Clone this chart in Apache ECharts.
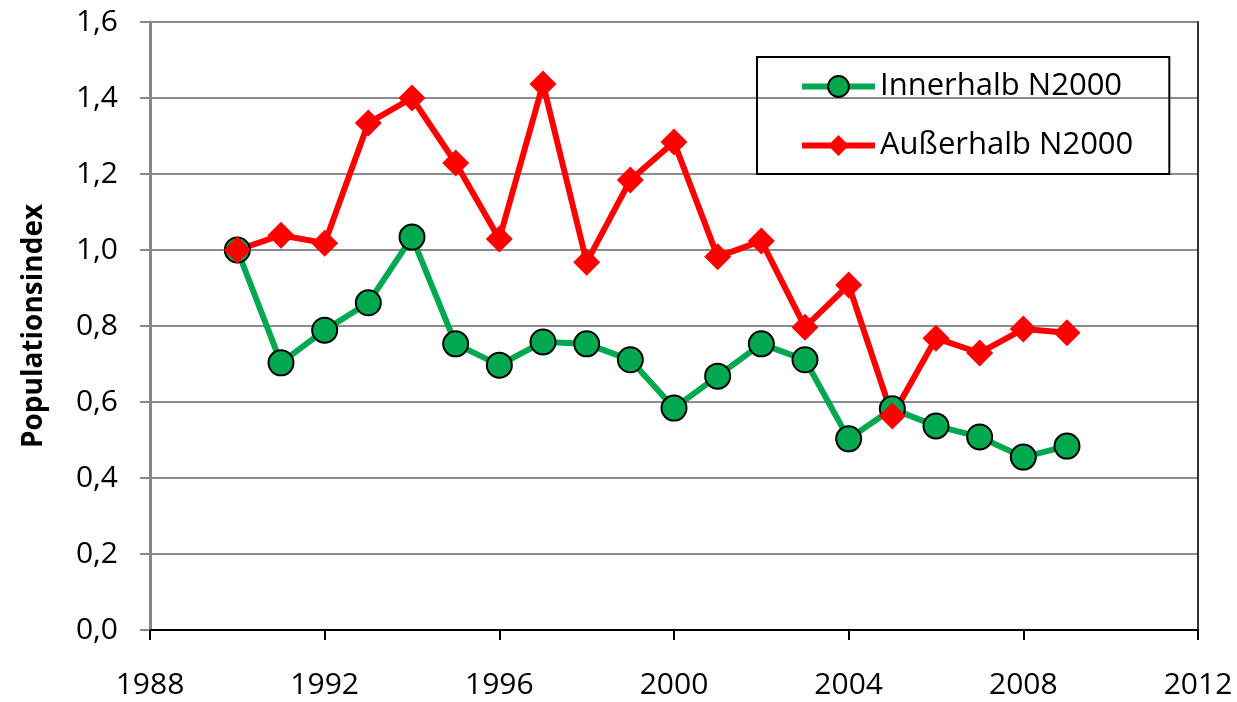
<!DOCTYPE html>
<html>
<head>
<meta charset="utf-8">
<script src="https://cdn.jsdelivr.net/npm/echarts@6/dist/echarts.min.js"></script>
<style>
  html, body { margin: 0; padding: 0; background: #fff; }
  #chart { width: 1237px; height: 702px; }
</style>
</head>
<body>
<div id="chart"></div>
<script>
// Jahre und Indexwerte
const years = [1990, 1991, 1992, 1993, 1994, 1995, 1996, 1997, 1998, 1999,
  2000, 2001, 2002, 2003, 2004, 2005, 2006, 2007, 2008, 2009]
const innerhalb = [1.0, 0.703, 0.789, 0.861, 1.034, 0.753, 0.697, 0.758, 0.753, 0.711,
  0.584, 0.668, 0.753, 0.711, 0.503, 0.582, 0.537, 0.508, 0.455, 0.484]
const ausserhalb = [1.0, 1.039, 1.018, 1.334, 1.4, 1.229, 1.029, 1.437, 0.968, 1.184,
  1.284, 0.982, 1.024, 0.797, 0.908, 0.563, 0.768, 0.729, 0.792, 0.782]
const seriesNames = ['Innerhalb N2000', 'Außerhalb N2000']
const yTitle = 'Populationsindex'

const font = '"Open Sans", sans-serif'
const chart = echarts.init(document.getElementById('chart'))

const option = {
  animation: false,
  backgroundColor: '#fff',
  grid: { left: 150, right: 39, top: 22, bottom: 72 },
  legend: {
    orient: 'vertical',
    left: 757,
    top: 57,
    padding: [14, 36, 13, 42],
    borderColor: '#000',
    borderWidth: 2,
    itemWidth: 73,
    itemHeight: 26,
    itemGap: 28,
    lineStyle: { width: 6 },
    textStyle: { fontFamily: font, fontSize: 31, color: '#000', lineHeight: 26 },
    data: seriesNames
  },
  xAxis: [
    {
      type: 'value',
      min: 1988,
      max: 2012,
      interval: 4,
      axisLine: { lineStyle: { color: '#000', width: 2 } },
      axisTick: { show: true, length: 10, lineStyle: { color: '#000', width: 2 } },
      axisLabel: { fontFamily: font, fontSize: 30, color: '#000', margin: 40, formatter: v => String(v) },
      splitLine: { show: false }
    },
    {
      type: 'value',
      position: 'top',
      min: 1988,
      max: 2012,
      axisLine: { show: true, lineStyle: { color: '#000', width: 2 } },
      axisTick: { show: false },
      axisLabel: { show: false },
      splitLine: { show: false }
    }
  ],
  yAxis: [
    {
      type: 'value',
      min: 0,
      max: 1.6,
      interval: 0.2,
      name: yTitle,
      nameLocation: 'middle',
      nameGap: 102,
      nameTextStyle: { fontFamily: font, fontSize: 28, fontWeight: 'bold', color: '#000' },
      axisLine: { show: true, lineStyle: { color: '#868686', width: 3 } },
      axisTick: { show: true, length: 10, lineStyle: { color: '#868686', width: 2 } },
      axisLabel: {
        fontFamily: font, fontSize: 30, color: '#000', margin: 32,
        formatter: v => v.toFixed(1).replace('.', ',')
      },
      splitLine: { lineStyle: { color: '#8c8c8c', width: 2 } }
    },
    {
      type: 'value',
      position: 'right',
      min: 0,
      max: 1.6,
      axisLine: { show: true, lineStyle: { color: '#333', width: 2 } },
      axisTick: { show: false },
      axisLabel: { show: false },
      splitLine: { show: false }
    }
  ],
  series: [
    {
      name: seriesNames[0],
      type: 'line',
      data: years.map((y, i) => [y, innerhalb[i]]),
      symbol: 'circle',
      symbolSize: 25,
      lineStyle: { color: '#00a94f', width: 6 },
      itemStyle: { color: '#00a94f', borderColor: '#000', borderWidth: 2 }
    },
    {
      name: seriesNames[1],
      type: 'line',
      data: years.map((y, i) => [y, ausserhalb[i]]),
      symbol: 'diamond',
      symbolSize: 27,
      lineStyle: { color: '#ff0000', width: 6 },
      itemStyle: { color: '#ff0000' }
    }
  ]
}
chart.setOption(option)
</script>
</body>
</html>
